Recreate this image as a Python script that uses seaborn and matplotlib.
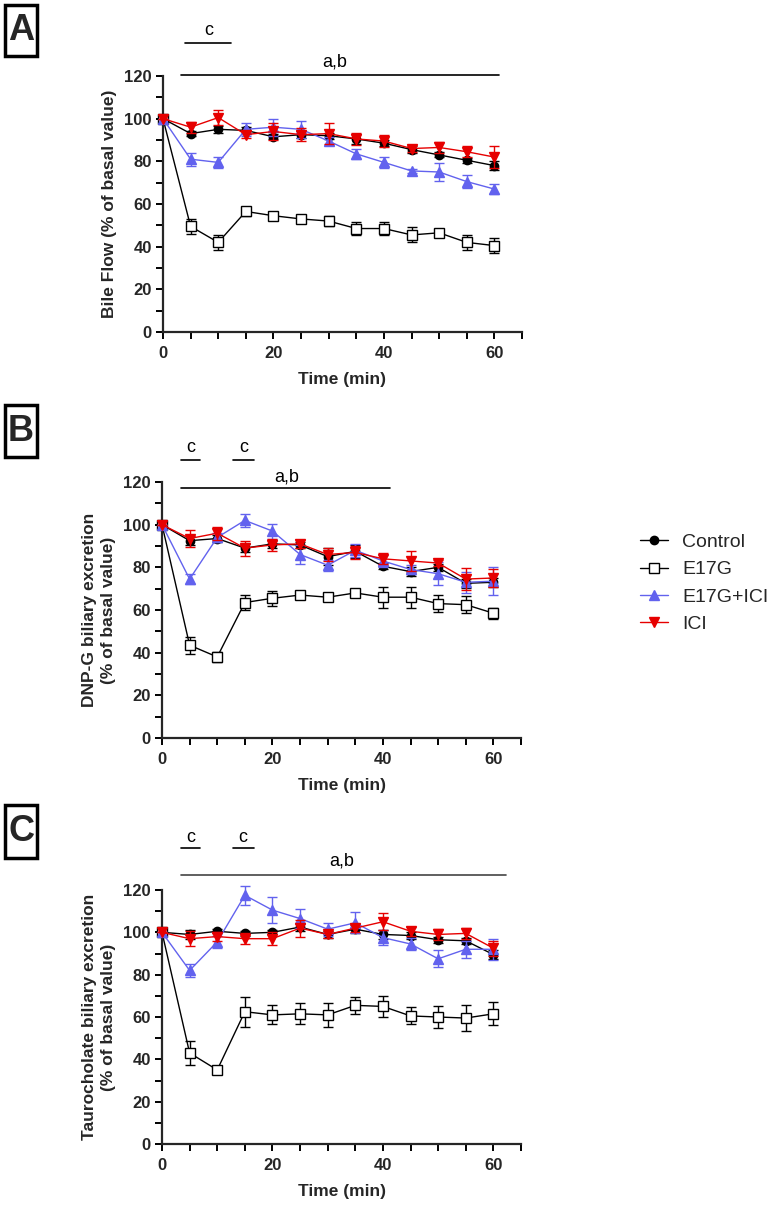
import numpy as np
import pandas as pd
import matplotlib
matplotlib.use("Agg")
import matplotlib.pyplot as plt
from matplotlib.patches import Rectangle
from matplotlib.ticker import MultipleLocator
import seaborn as sns

# ---------------- data ----------------
time = [0, 5, 10, 15, 20, 25, 30, 35, 40, 45, 50, 55, 60]
groups = ["Control", "E17G", "E17G+ICI", "ICI"]

# Panel A: bile flow
a_control = [100, 93, 95, 94.5, 91.5, 92.5, 92, 90.5, 88.5, 85.5, 83, 80.5, 78]
a_control_err = [0, 1.2, 1.5, 1.5, 1.2, 1.5, 1.5, 2.5, 1.5, 1.5, 1.2, 1.2, 2]
a_e17g = [100, 49.5, 42, 56.5, 54.5, 53, 52, 48.5, 48.5, 45.5, 46.5, 42, 40.5]
a_e17g_err = [0, 3.5, 3.5, 2, 1, 1.5, 2.5, 3, 3, 3.5, 2, 3.5, 3.5]
a_e17gici = [100, 81, 79.5, 95, 96, 95, 89.5, 83.5, 79.5, 75.5, 75, 70.5, 67]
a_e17gici_err = [0, 3, 2.5, 3, 4, 4, 2, 2.5, 2.5, 1, 4, 3, 2.5]
a_ici = [100, 96, 100.5, 92.5, 94, 92.5, 93, 90.5, 89.5, 86, 86.5, 84.5, 82]
a_ici_err = [0, 2.5, 3.5, 1.5, 4, 3, 5, 3, 3, 1.5, 2.5, 2.5, 5]

# Panel B: DNP-G biliary excretion
b_control = [100, 92.5, 93.5, 89, 91, 90.5, 85, 87.5, 80.5, 78, 80, 72.5, 73]
b_control_err = [0, 2, 1.5, 2, 2, 1.5, 4, 3, 1.5, 2, 1.5, 2, 2]
b_e17g = [100, 43.5, 38, 63.5, 65.5, 67, 66, 68, 66, 66, 63, 62.5, 58.5]
b_e17g_err = [0, 4, 2.5, 3.5, 3.5, 1, 2, 1, 5, 5, 4, 4, 2.5]
b_e17gici = [100, 74.5, 94, 102, 97, 86, 81, 88, 83, 79, 77, 73, 73.5]
b_e17gici_err = [0, 2.5, 2, 3, 3.5, 4.5, 2.5, 3, 3, 2, 5.5, 5, 6.5]
b_ici = [100, 93.5, 96, 89, 90.5, 91, 86, 87, 84, 83, 82, 74.5, 75]
b_ici_err = [0, 4, 3, 3.5, 3, 2, 3, 3, 2.5, 4.5, 1.5, 5, 4]

# Panel C: taurocholate biliary excretion
c_control = [100, 99, 100.5, 99.5, 100, 102.5, 99, 101.5, 99, 98.5, 96.5, 96, 89.5]
c_control_err = [0, 2, 1, 1, 1, 2, 1.5, 2, 2, 1.5, 1.5, 1.5, 2]
c_e17g = [100, 43, 35, 62.5, 61, 61.5, 61, 65.5, 65, 60.5, 60, 59.5, 61.5]
c_e17g_err = [0, 5.5, 1, 7, 4.5, 5, 5.5, 4, 5, 4, 5, 6, 5.5]
c_e17gici = [100, 82, 95.5, 117.5, 110.5, 106.5, 101.5, 104.5, 97.5, 94.5, 87.5, 92, 92]
c_e17gici_err = [0, 3, 3, 4.5, 6, 4.5, 3, 5, 3.5, 3, 4, 4, 5]
c_ici = [100, 97, 98, 97, 97, 102, 99, 102, 105, 100.5, 99, 99.5, 92.5]
c_ici_err = [0, 3.5, 2, 2.5, 3, 4, 1.5, 2, 4, 2, 2.5, 2.5, 3.5]

ylabels = ["Bile Flow (% of basal value)",
           "DNP-G biliary excretion\n(% of basal value)",
           "Taurocholate biliary excretion\n(% of basal value)"]
panel_letters = ["A", "B", "C"]
xlabel = "Time (min)"
xticks = [0, 20, 40, 60]
yticks = [0, 20, 40, 60, 80, 100, 120]

# ---------------- style ----------------
sns.set_style("ticks")
plt.rcParams["font.family"] = ["Liberation Sans", "DejaVu Sans"]

colors = {"Control": "black", "E17G": "black", "E17G+ICI": "#6262ee", "ICI": "#e60000"}
markers = {"Control": "o", "E17G": "s", "E17G+ICI": "^", "ICI": "v"}
mfc = {"Control": "black", "E17G": "white", "E17G+ICI": "#6262ee", "ICI": "#e60000"}
msize = {"Control": 6, "E17G": 6.5, "E17G+ICI": 6.5, "ICI": 6.5}

panels = [
    (a_control, a_control_err, a_e17g, a_e17g_err, a_e17gici, a_e17gici_err, a_ici, a_ici_err),
    (b_control, b_control_err, b_e17g, b_e17g_err, b_e17gici, b_e17gici_err, b_ici, b_ici_err),
    (c_control, c_control_err, c_e17g, c_e17g_err, c_e17gici, c_e17gici_err, c_ici, c_ici_err),
]

W, H = 778, 1205
fig = plt.figure(figsize=(W / 100, H / 100), dpi=100)

# axes rectangles in pixels: (left, top, right, bottom)
ax_px = [(163, 76, 522, 332), (162, 482, 521, 738), (162, 890, 521, 1144)]
box_px = [(5, 5, 37, 56), (5, 405, 37, 457), (5, 805, 37, 858)]
ylab_x = [-0.128, -0.128, -0.128]

# significance annotations (data coords): (x0, x1, y, text, text_x, text_y, color)
sig = [
    [(4.0, 12.4, 135.5, "c", 8.2, 141.5, "black"),
     (3.2, 60.9, 120.3, "a,b", 31, 126.5, "black")],
    [(3.4, 6.9, 130.3, "c", 5.2, 136, "black"),
     (12.9, 16.6, 130.3, "c", 14.8, 136, "black"),
     (3.4, 41.3, 117.2, "a,b", 22.5, 122.3, "black")],
    [(3.4, 6.9, 139.8, "c", 5.2, 145, "black"),
     (12.9, 16.6, 139.8, "c", 14.7, 145, "black"),
     (3.4, 62.3, 127.0, "a,b", 32.6, 133.7, "#444444")],
]

axes = []
for i, data in enumerate(panels):
    l, t, r, b = ax_px[i]
    ax = fig.add_axes([l / W, 1 - b / H, (r - l) / W, (b - t) / H])
    axes.append(ax)
    for k, g in enumerate(groups):
        vals = data[2 * k]
        errs = data[2 * k + 1]
        df = pd.DataFrame({"time": time, "value": vals})
        ax.errorbar(time, vals, yerr=errs, fmt="none", ecolor=colors[g],
                    elinewidth=1.0, capsize=3.5, capthick=1.0, clip_on=False,
                    zorder=2 + k)
        sns.lineplot(data=df, x="time", y="value", ax=ax, color=colors[g],
                     marker=markers[g], markersize=msize[g], markerfacecolor=mfc[g],
                     markeredgecolor=colors[g], markeredgewidth=1.0, linewidth=1.0,
                     label=g, clip_on=False, zorder=2.5 + k, legend=False)
    ax.set_xlim(0, 65)
    ax.set_ylim(0, 120)
    ax.set_xticks(xticks)
    ax.set_yticks(yticks)
    ax.xaxis.set_minor_locator(MultipleLocator(5))
    ax.yaxis.set_minor_locator(MultipleLocator(10))
    for s in ["top", "right"]:
        ax.spines[s].set_visible(False)
    for s in ["left", "bottom"]:
        ax.spines[s].set_linewidth(1.6)
    ax.tick_params(which="both", direction="out", length=5, width=1.4, color="black")
    ax.tick_params(axis="x", which="major", labelsize=12, pad=5)
    ax.tick_params(axis="y", which="major", labelsize=12, pad=3)
    for lab in ax.get_xticklabels() + ax.get_yticklabels():
        lab.set_fontweight("bold")
    ax.set_xlabel(xlabel, fontsize=12.5, fontweight="bold", labelpad=8)
    ax.set_ylabel(ylabels[i], fontsize=12.5, fontweight="bold", linespacing=1.3)
    ax.yaxis.set_label_coords(ylab_x[i], 0.5)
    for (x0, x1, y, txt, tx, ty, col) in sig[i]:
        ax.plot([x0, x1], [y, y], color=col, lw=1.2, clip_on=False)
        ax.text(tx, ty, txt, ha="center", va="center", fontsize=13, color="black",
                clip_on=False)
    # panel letter box
    bl, bt, br, bb = box_px[i]
    fig.patches.append(Rectangle((bl / W, 1 - bb / H), (br - bl) / W, (bb - bt) / H,
                                 transform=fig.transFigure, fill=False,
                                 edgecolor="black", linewidth=2.5))
    fig.text((bl + br) / 2 / W, 1 - (bt + bb) / 2 / H, panel_letters[i],
             ha="center", va="center", fontsize=26, fontweight="bold")

handles, labels = axes[0].get_legend_handles_labels()
fig.legend(handles, labels, loc="upper left", bbox_to_anchor=(622 / W, 1 - 516 / H),
           frameon=False, fontsize=14, handlelength=1.45, handletextpad=0.75,
           labelspacing=0.5)

fig.savefig("out.png", dpi=100)
